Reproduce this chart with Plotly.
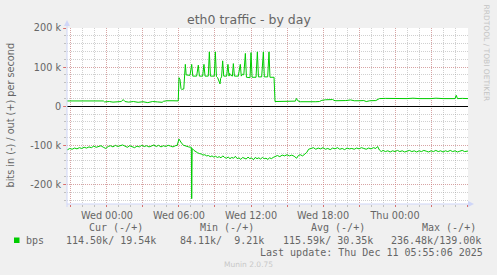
import plotly.graph_objects as go

# ---------------- data (values in kbit/s; time in hours relative to Wed 00:00) ----------------
out_t = [-3.33, -2.0, -1.15, -1.1, -1.0, -0.3, -0.2, 0.2, 0.5, 0.9, 1.2, 1.35, 1.5, 1.8, 2.2, 2.6,
         3.0, 3.4, 3.8, 4.2, 4.6, 4.7, 5.0, 5.5, 5.94,
         6.0, 6.08, 6.17, 6.22, 6.4, 6.53, 6.6, 6.69, 6.92, 7.06, 7.15, 7.47, 7.61, 7.7, 7.97,
         8.08, 8.17, 8.44, 8.53, 8.62, 8.94, 9.03, 9.12, 9.22, 9.42, 9.47, 9.55, 9.64, 9.73, 9.97,
         10.08, 10.17, 10.22, 10.28, 10.45, 10.53, 10.62, 10.94, 11.11, 11.19, 11.3, 11.4, 11.53,
         11.62, 11.92, 12.0, 12.09, 12.42, 12.53, 12.62, 12.89, 13.03, 13.11, 13.39, 13.5, 13.58,
         13.92, 14.0, 14.5, 15.0, 15.5, 15.7, 15.78, 15.9, 16.1, 16.6, 17.0, 17.4, 17.7, 17.9,
         18.2, 18.5, 18.8, 19.0, 19.5, 19.9, 20.3, 20.6, 21.0, 21.4, 21.6, 21.9, 22.4, 22.7, 23.2,
         24.0, 25.0, 25.5, 26.0, 27.0, 27.4, 28.0, 28.6, 29.0, 29.1, 29.2, 29.6, 30.08]
out_v = [13.5, 13.5, 13.5, 15, 13.5, 13.5, 11, 12, 10.5, 11.5, 12, 17, 12, 10.5, 12, 10,
         11.5, 9.2, 12, 11, 10, 12.5, 14, 14, 13.6,
         73, 69, 45, 43, 44, 107, 80, 80, 79, 107, 77, 77, 105, 77, 77,
         107, 77, 77, 139, 77, 77, 139, 76, 73, 57, 71, 75, 116, 77, 77,
         107, 77, 84, 80, 77, 109, 77, 77, 107, 77, 82, 80, 135,
         74, 73, 137, 74, 74, 139, 75, 75, 139, 75, 75, 139, 74,
         74, 12, 12.5, 12, 12.5, 13, 20, 14, 11.5, 11, 11, 11.5, 12, 15,
         16.5, 16, 17, 14, 14, 14.5, 16, 14, 14, 14.5, 12, 14, 14.5, 19.5, 20,
         19.5, 19.5, 20.5, 19.5, 19.5, 20.5, 19.5, 20, 19.5, 28, 19.5, 20, 19.54]

in_t = [-3.33, -3.1, -2.9, -2.7, -2.5, -2.3, -2.1, -1.9, -1.7, -1.5, -1.3, -1.1, -0.9, -0.7, -0.5,
        -0.3, -0.1, 0.1, 0.3, 0.5, 0.7, 0.9, 1.1, 1.3, 1.5, 1.7, 1.9, 2.1, 2.3, 2.5, 2.7, 2.9,
        3.1, 3.3, 3.5, 3.7, 3.9, 4.1, 4.3, 4.5, 4.7, 4.9, 5.1, 5.3, 5.5, 5.7, 5.85,
        6.0, 6.1, 6.25, 6.4, 6.6, 6.8, 6.95, 7.03, 7.06, 7.1, 7.25, 7.4, 7.55, 7.7, 7.85, 8.0,
        8.15, 8.3, 8.45, 8.6, 8.75, 8.9, 9.05, 9.2, 9.35, 9.5, 9.65, 9.8, 9.95, 10.1, 10.25,
        10.4, 10.55, 10.7, 10.85, 11.0, 11.15, 11.3, 11.45, 11.6, 11.75, 11.9, 12.05, 12.2,
        12.35, 12.5, 12.65, 12.8, 12.95, 13.1, 13.25, 13.4, 13.55, 13.7, 13.85, 14.0, 14.2,
        14.4, 14.6, 14.8, 15.0, 15.2, 15.4, 15.6, 15.8, 15.95, 16.1, 16.3, 16.5, 16.65, 16.8,
        17.0, 17.2, 17.4, 17.6, 17.8, 18.0, 18.2, 18.4, 18.6, 18.8, 19.0, 19.2, 19.4, 19.6,
        19.8, 20.0, 20.2, 20.4, 20.6, 20.8, 21.0, 21.2, 21.4, 21.6, 21.8, 22.0, 22.2, 22.4,
        22.55, 22.7, 22.85, 23.0, 23.2, 23.4, 23.6, 23.8, 24.0, 24.2, 24.4, 24.6, 24.8, 25.0,
        25.2, 25.4, 25.6, 25.8, 26.0, 26.2, 26.4, 26.6, 26.8, 27.0, 27.2, 27.4, 27.6, 27.8,
        28.0, 28.2, 28.4, 28.6, 28.8, 29.0, 29.2, 29.4, 29.6, 29.8, 30.08]
in_v = [-112, -108, -110, -107, -109, -106, -108, -105, -107, -104, -106, -102, -105, -103, -101,
        -105, -108, -103, -101, -104, -100, -103, -101, -99, -102, -105, -101, -103, -106, -102,
        -104, -100, -103, -101, -104, -102, -99, -103, -100, -104, -101, -103, -100, -102, -104,
        -101, -100,
        -84, -89, -96, -100, -103, -104, -105, -105, -236.5, -108, -113, -117, -119, -121, -122,
        -125, -124, -127, -126, -129, -127, -130, -128, -131, -129, -132, -127, -131, -133, -130,
        -134, -131, -133, -128, -134, -132, -136, -131, -133, -135, -130, -134, -132, -137,
        -131, -134, -132, -135, -131, -134, -133, -136, -132, -134, -131, -128, -126,
        -129, -125, -127, -124, -127, -125, -128, -133, -126, -124, -127, -123, -118, -110,
        -108, -106, -110, -107, -109, -106, -110, -108, -111, -107, -109, -106, -110, -108,
        -111, -107, -109, -108, -110, -107, -109, -106, -108, -110, -107, -109, -106, -108,
        -103, -112, -116, -113, -116, -114, -117, -114, -116, -113, -116, -114, -117, -115,
        -113, -116, -114, -117, -114, -116, -113, -115, -117, -114, -116, -113, -116, -114,
        -117, -114, -116, -113, -116, -114, -117, -115, -113, -116, -114.5]

x_tick_vals = [-3, 0, 3, 6, 9, 12, 15, 18, 21, 24, 27, 30]
x_tick_text = ["", "Wed 00:00", "", "Wed 06:00", "", "Wed 12:00", "", "Wed 18:00", "", "Thu 00:00", "", ""]
y_tick_vals = [-200, -100, 0, 100, 200]
y_tick_text = ["-200 k", "-100 k", "0", "100 k", "200 k"]

title = "eth0 traffic - by day"
y_title = "bits in (-) / out (+) per second"
side_text = "RRDTOOL / TOBI OETIKER"
legend_name = "bps"
legend_headers = ["Cur (-/+)", "Min (-/+)", "Avg (-/+)", "Max (-/+)"]
legend_values = ["114.50k/ 19.54k", "84.11k/  9.21k", "115.59k/ 30.35k", "236.48k/139.00k"]
last_update = "Last update: Thu Dec 11 05:55:06 2025"
version = "Munin 2.0.75"

# ---------------- layout geometry ----------------
W, H = 497, 275
L, R, T, B = 67, 468, 28, 204


def px(x):
    return (x - L) / (R - L)


def py(y):
    return (B - y) / (B - T)


GREEN = "#00cc00"
FONT = "#666666"
AXIS = "#CFD6F8"
MGRID = "rgba(225,110,110,0.45)"
GRID = "rgba(150,150,150,0.45)"

fig = go.Figure()
fig.add_trace(go.Scatter(x=out_t, y=out_v, mode="lines", line=dict(color=GREEN, width=1),
                         hoverinfo="skip", showlegend=False))
fig.add_trace(go.Scatter(x=in_t, y=in_v, mode="lines", line=dict(color=GREEN, width=1),
                         hoverinfo="skip", showlegend=False))

fig.update_layout(
    width=W, height=H,
    margin=dict(l=L, r=W - R, t=T, b=H - B, pad=0),
    paper_bgcolor="#f0f0f0", plot_bgcolor="#ffffff",
    font=dict(family="DejaVu Sans", color=FONT, size=9.7),
    showlegend=False,
)
fig.update_xaxes(
    range=[-3.33, 30.08], tickmode="array", tickvals=x_tick_vals, ticktext=x_tick_text,
    showgrid=True, gridcolor=MGRID, griddash="1px,1px", gridwidth=1,
    ticks="outside", ticklen=2, tickcolor="rgba(222,79,79,0.7)",
    minor=dict(dtick=1, tick0=0, showgrid=True, gridcolor=GRID, griddash="1px,1px",
               ticks="outside", ticklen=2, tickcolor="rgba(143,143,143,0.5)"),
    zeroline=False, showline=False, fixedrange=True,
    tickfont=dict(size=9.7, color=FONT),
)
fig.update_yaxes(
    range=[-250, 200], tickmode="array", tickvals=y_tick_vals, ticktext=y_tick_text,
    showgrid=True, gridcolor=MGRID, griddash="1px,1px", gridwidth=1,
    ticks="outside", ticklen=3, tickcolor="rgba(222,79,79,0.7)",
    minor=dict(dtick=20, tick0=0, showgrid=True, gridcolor=GRID, griddash="1px,1px",
               ticks="outside", ticklen=2, tickcolor="rgba(143,143,143,0.5)"),
    zeroline=True, zerolinecolor="#000000", zerolinewidth=1,
    showline=False, fixedrange=True,
    tickfont=dict(size=9.7, color=FONT),
)

shapes = []
# axis lines with arrows
shapes.append(dict(type="line", xref="paper", yref="paper", x0=px(67), x1=px(470), y0=py(204), y1=py(204),
                   line=dict(color=AXIS, width=1), layer="above"))
shapes.append(dict(type="line", xref="paper", yref="paper", x0=px(67), x1=px(67), y0=py(207), y1=py(24),
                   line=dict(color=AXIS, width=1), layer="above"))
shapes.append(dict(type="path", xref="paper", yref="paper",
                   path=f"M {px(468)} {py(201)} L {px(474)} {py(204)} L {px(468)} {py(207)} Z",
                   fillcolor=AXIS, line=dict(color=AXIS, width=0), layer="above"))
shapes.append(dict(type="path", xref="paper", yref="paper",
                   path=f"M {px(64)} {py(26)} L {px(67)} {py(20)} L {px(70)} {py(26)} Z",
                   fillcolor=AXIS, line=dict(color=AXIS, width=0), layer="above"))
# legend colour box
shapes.append(dict(type="rect", xref="paper", yref="paper", x0=px(14), x1=px(19.5), y0=py(243), y1=py(237.5),
                   fillcolor=GREEN, line=dict(width=0)))

ann = []


def text(s, x, y, size=9.7, color=FONT, family="DejaVu Sans", xanchor="left", angle=0):
    ann.append(dict(text=s, x=px(x), y=py(y), xref="paper", yref="paper", showarrow=False,
                    xanchor=xanchor, yanchor="middle", textangle=angle, borderpad=0, borderwidth=0,
                    font=dict(size=size, color=color, family=family)))


text(title, 248.5, 19, size=12.5, xanchor="center")
text(y_title, 10.5, 115, angle=-90, xanchor="center")
text(side_text, 486.5, 53, size=7.5, color="#c4c4c4", angle=90, xanchor="center")

MONO = "DejaVu Sans Mono"
for s, x in zip(legend_headers, [88.5, 199.5, 311, 422]):
    text(s, x, 227.5, size=10, family=MONO)
text(legend_name, 26, 240, size=10, family=MONO)
for s, x in zip(legend_values, [66, 180, 283, 391]):
    text(s, x, 240, size=10, family=MONO)
text(last_update, 483, 252, size=10, family=MONO, xanchor="right")
text(version, 248, 264, size=7.5, color="#c8c8c8", xanchor="center")

fig.update_layout(shapes=shapes, annotations=ann)
fig.write_html("out.html")
